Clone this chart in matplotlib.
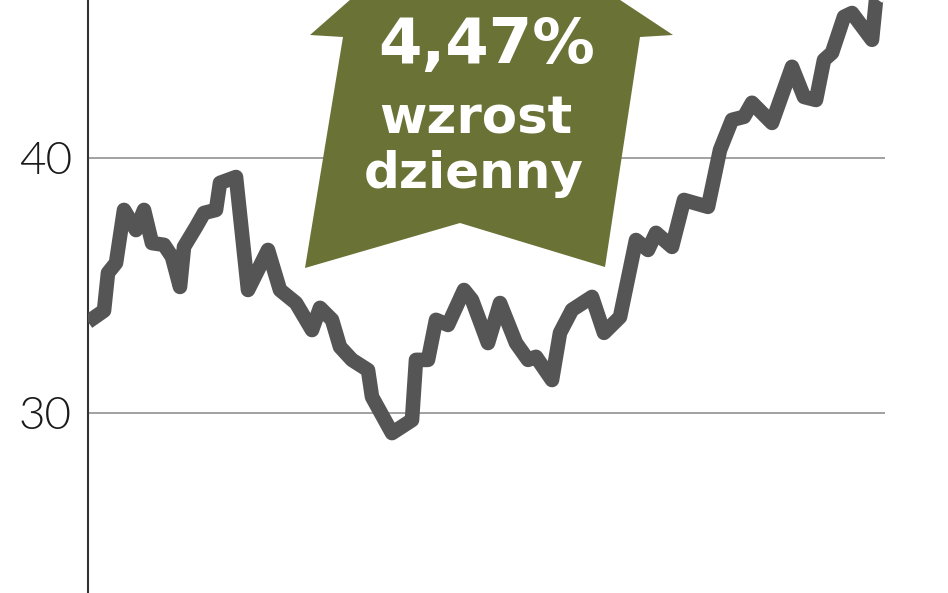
import matplotlib
matplotlib.use("Agg")
import matplotlib.pyplot as plt
from matplotlib.patches import Polygon
from matplotlib import font_manager

# ---- data (trading day index, price) ----
days = [0, 4, 5, 7, 9, 12, 14, 16, 19, 21, 23, 24, 27, 29, 32, 33, 37, 40, 45, 48,
        52, 56, 58, 61, 63, 66, 70, 71, 76, 81, 82, 85, 87, 90, 94, 96, 100, 103, 107, 110,
        112, 116, 118, 121, 126, 129, 133, 137, 140, 142, 146, 149, 155, 158, 161, 164, 166, 171, 176, 179,
        182, 184, 186, 189, 191, 196, 197, 199]
prices = [33.56, 34.0, 35.48, 35.87, 37.95, 37.16, 37.95, 36.65, 36.58, 36.11, 34.93, 36.5, 37.28, 37.83, 37.95, 39.01, 39.24, 34.81, 36.38, 34.81,
          34.30, 33.24, 34.11, 33.64, 32.58, 32.07, 31.67, 30.62, 29.20, 29.71, 32.07, 32.07, 33.64, 33.44, 34.81, 34.42, 32.73, 34.30, 32.73, 32.07,
          32.19, 31.28, 33.13, 34.03, 34.54, 33.13, 33.75, 36.77, 36.38, 37.05, 36.50, 38.34, 38.07, 40.30, 41.48, 41.60, 42.15, 41.36, 43.56, 42.38,
          42.26, 43.83, 44.11, 45.52, 45.67, 44.62, 46.18, 46.65]
yticks = [30, 40]
ytick_labels = ["30", "40"]
badge_lines = ["4,47%", "wzrost", "dzienny"]

W, H = 948, 593
fig = plt.figure(figsize=(W / 100, H / 100), dpi=100)
ax = fig.add_axes([88 / W, 0, (885 - 88) / W, 1])

ax.set_xlim(0, 199.25)
ax.set_ylim(22.93, 46.18)

for yv in yticks:
    ax.axhline(yv, color="#9a9a9a", lw=1.3, zorder=1)

ax.plot(days, prices, color="#555555", lw=10.5, solid_joinstyle="round",
        solid_capstyle="butt", zorder=3)

for s in ["top", "right", "bottom"]:
    ax.spines[s].set_visible(False)
ax.spines["left"].set_color("#333333")
ax.spines["left"].set_linewidth(1.5)
ax.set_xticks([])
ax.set_yticks(yticks)
ax.set_yticklabels(ytick_labels, fontsize=33, color="#1a1a1a",
                   fontfamily=["Lato", "DejaVu Sans"], fontweight=300)
ax.tick_params(axis="y", length=0, pad=11.5)

# ---- arrow badge (figure pixel coords) ----
pts = [(466, -102), (673, 35), (640, 37), (605, 267), (460, 223),
       (305, 268), (343, 37), (310, 35)]
poly = Polygon([(x / W, 1 - y / H) for x, y in pts], closed=True,
               transform=fig.transFigure, facecolor="#6a7236",
               edgecolor="none", zorder=5)
fig.patches.append(poly)

installed = {f.name for f in font_manager.fontManager.ttflist}
if "DejaVu Sans Condensed" in installed:
    badge_family = ["DejaVu Sans Condensed", "DejaVu Sans"]
    txt_specs = [(487, 63, 48), (476, 133, 40), (474, 188, 39)]
else:
    badge_family = ["DejaVu Sans"]
    txt_specs = [(487, 63, 45), (476, 133, 37), (474, 188, 36)]

for line, (cx, by, fs) in zip(badge_lines, txt_specs):
    fig.text(cx / W, 1 - by / H, line, ha="center", va="baseline",
             fontsize=fs, fontweight="bold", color="white",
             fontfamily=badge_family, zorder=6)

fig.savefig("out.png", dpi=100)
